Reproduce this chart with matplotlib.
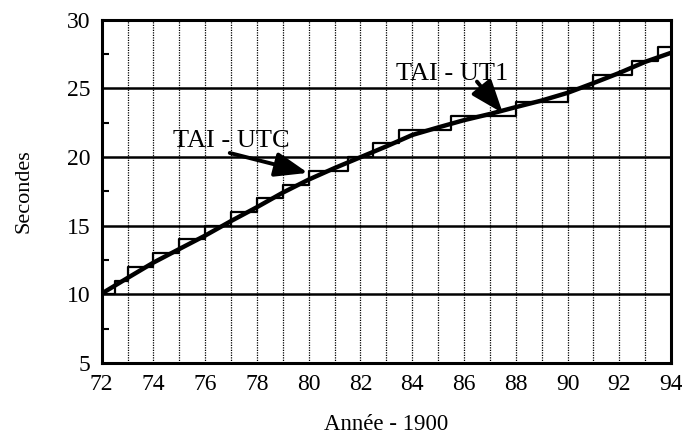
import numpy as np
import matplotlib
matplotlib.use("Agg")
import matplotlib.pyplot as plt

plt.rcParams['font.family'] = ['Liberation Serif', 'DejaVu Serif']

# TAI - UTC : sauts de seconde (annee - 1900, valeur apres le saut)
utc_years = [72.0, 72.5, 73.0, 74.0, 75.0, 76.0, 77.0, 78.0, 79.0, 80.0,
             81.5, 82.5, 83.5, 85.5, 88.0, 90.0, 91.0, 92.5, 93.5, 94.0]
utc_values = [10, 11, 12, 13, 14, 15, 16, 17, 18, 19,
              20, 21, 22, 23, 24, 25, 26, 27, 28, 28]

# TAI - UT1 au debut de chaque annee
ut1_years = [72, 73, 74, 75, 76, 77, 78, 79, 80, 81, 82, 83,
             84, 85, 86, 87, 88, 89, 90, 91, 92, 93, 94]
ut1_values = [10.05, 11.19, 12.31, 13.30, 14.28, 15.34, 16.35, 17.41, 18.36,
              19.20, 19.99, 20.78, 21.61, 22.16, 22.69, 23.14, 23.64, 24.12,
              24.68, 25.39, 26.13, 26.94, 27.60]

xticks = list(range(72, 95, 2))
yticks = [5, 10, 15, 20, 25, 30]

fig = plt.figure(figsize=(6.82, 4.41), dpi=100)
ax = fig.add_axes([0.149, 0.177, 0.835, 0.778])

# grille
for yr in range(73, 94):
    ax.axvline(yr, color='black', lw=0.9, ls=(0, (1, 1)), zorder=1)
for v in [10, 15, 20, 25]:
    ax.axhline(v, color='black', lw=1.8, zorder=1)

ax.step(utc_years, utc_values, where='post', color='black', lw=1.6, zorder=2)
ax.plot(ut1_years, ut1_values, color='black', lw=3.2, zorder=3)

arrow = dict(arrowstyle='-|>,head_length=2.0,head_width=0.75',
             color='black', lw=2.8, shrinkA=0, shrinkB=0)
ax.text(77.0, 20.7, 'TAI - UTC', fontsize=19, ha='center', va='baseline',
        zorder=4)
ax.annotate('', xy=(79.97, 18.85), xytext=(76.95, 20.3),
            arrowprops=arrow, zorder=4)
ax.text(85.55, 25.65, 'TAI - UT1', fontsize=19, ha='center', va='baseline',
        zorder=4)
ax.annotate('', xy=(87.5, 23.2), xytext=(86.5, 25.5),
            arrowprops=arrow, zorder=4)

ax.set_xlim(72, 94)
ax.set_ylim(5, 30)
ax.set_xticks(xticks)
ax.set_yticks(yticks)
ax.set_yticks(np.arange(7.5, 30, 5), minor=True)
ax.tick_params(axis='x', length=0, labelsize=17, pad=8)
ax.tick_params(axis='y', which='major', length=0, labelsize=17, pad=8)
ax.tick_params(axis='y', which='minor', direction='in', length=5, width=1.5)
for s in ax.spines.values():
    s.set_linewidth(2.2)

ax.set_xlabel('Année - 1900', fontsize=16.5, labelpad=14)
ax.set_ylabel('Secondes', fontsize=16, labelpad=24)

fig.savefig('out.png', dpi=100)
